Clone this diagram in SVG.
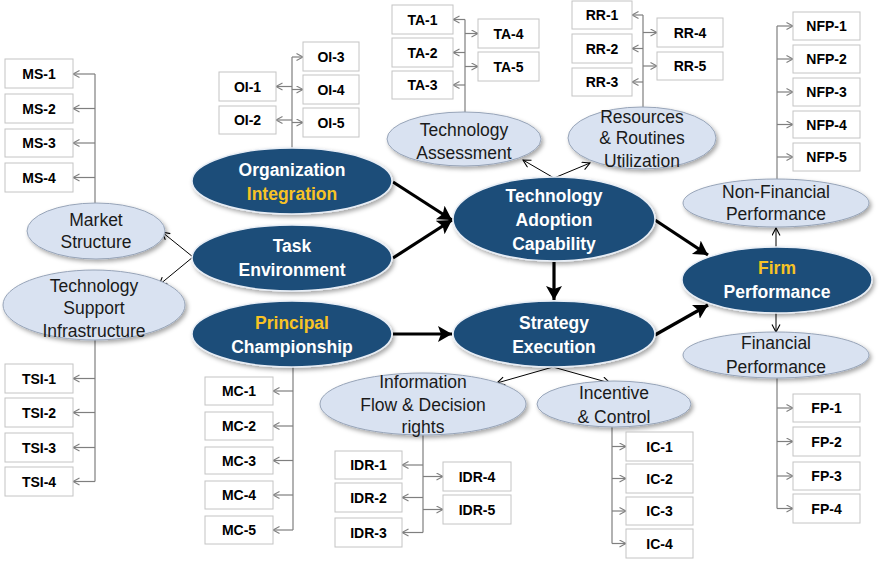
<svg xmlns="http://www.w3.org/2000/svg" width="881" height="562" viewBox="0 0 881 562">
<defs>
<style>
.box rect{fill:#fff;stroke:#c4c4c4;stroke-width:1}
.box text{font-family:"Liberation Sans",Arial,sans-serif;font-weight:bold;font-size:14px;fill:#000;text-anchor:middle}
.lt ellipse{fill:#d9e2f1;stroke:#97a4b8;stroke-width:1;filter:url(#sh)}
.lt text{font-family:"Liberation Sans",Arial,sans-serif;font-size:17.5px;fill:#1a1a1a;text-anchor:middle}
.dk ellipse{fill:#1f4e79;stroke:#e8eef6;stroke-width:1.5;filter:url(#sh)}
.dk text{font-family:"Liberation Sans",Arial,sans-serif;font-weight:bold;font-size:17.5px;fill:#fff;text-anchor:middle}
.dk text.gold{fill:#f7c325}
.tree path{fill:none;stroke:#7f7f7f;stroke-width:1.2}
.tree path.stub{marker-end:url(#grey)}
.thin{fill:none;stroke:#000;stroke-width:1;marker-end:url(#blk)}
.thick{fill:none;stroke:#000;stroke-width:3.2;marker-end:url(#big)}
</style>
<filter id="sh" x="-20%" y="-20%" width="140%" height="150%">
<feDropShadow dx="2" dy="2.5" stdDeviation="2" flood-color="#000" flood-opacity="0.35"/>
</filter>
<marker id="grey" markerUnits="userSpaceOnUse" markerWidth="10" markerHeight="10" refX="7" refY="4" orient="auto">
<path d="M0.5,0.5 L7,4 L0.5,7.5" fill="none" stroke="#7f7f7f" stroke-width="1.1"/>
</marker>
<marker id="blk" markerUnits="userSpaceOnUse" markerWidth="12" markerHeight="12" refX="8" refY="4.5" orient="auto">
<path d="M0.5,0.5 L8,4.5 L0.5,8.5" fill="none" stroke="#000" stroke-width="1.1"/>
</marker>
<marker id="big" markerUnits="userSpaceOnUse" markerWidth="20" markerHeight="20" refX="14" refY="8" orient="auto">
<path d="M0,0 L14,8 L0,16 L3,8 z" fill="#000"/>
</marker>
</defs>
<rect width="881" height="562" fill="#fff"/>

<g id="connectors">
<g class="tree">
<path d="M95,203 V74"/>
<path class="stub" d="M95,74 H73"/><path class="stub" d="M95,108.5 H73"/><path class="stub" d="M95,143 H73"/><path class="stub" d="M95,177.5 H73"/>
<path d="M95,340 V481.5"/>
<path class="stub" d="M95,378.5 H73"/><path class="stub" d="M95,412.5 H73"/><path class="stub" d="M95,447.5 H73"/><path class="stub" d="M95,481.5 H73"/>
<path d="M293,367 V530"/>
<path class="stub" d="M293,391 H273"/><path class="stub" d="M293,426 H273"/><path class="stub" d="M293,460.5 H273"/><path class="stub" d="M293,495 H273"/><path class="stub" d="M293,530 H273"/>
<path d="M292,148 V57"/>
<path class="stub" d="M292,86.5 H276"/><path class="stub" d="M292,120 H276"/>
<path class="stub" d="M292,57 H303"/><path class="stub" d="M292,89.5 H303"/><path class="stub" d="M292,122.5 H303"/>
<path d="M465,112 V19.5"/>
<path class="stub" d="M465,19.5 H453"/><path class="stub" d="M465,52.5 H453"/><path class="stub" d="M465,85 H453"/>
<path class="stub" d="M465,33.5 H478"/><path class="stub" d="M465,66.5 H478"/>
<path d="M643,107 V15"/>
<path class="stub" d="M643,15 H632"/><path class="stub" d="M643,48.5 H632"/><path class="stub" d="M643,82 H632"/>
<path class="stub" d="M643,32.5 H657"/><path class="stub" d="M643,66 H657"/>
<path d="M777,180 V26"/>
<path class="stub" d="M777,26 H793"/><path class="stub" d="M777,59 H793"/><path class="stub" d="M777,92 H793"/><path class="stub" d="M777,124.5 H793"/><path class="stub" d="M777,157 H793"/>
<path d="M777,378 V508.5"/>
<path class="stub" d="M777,408 H793"/><path class="stub" d="M777,441.5 H793"/><path class="stub" d="M777,476 H793"/><path class="stub" d="M777,508.5 H793"/>
<path d="M423,435 V532.5"/>
<path class="stub" d="M423,465 H402"/><path class="stub" d="M423,497.5 H402"/><path class="stub" d="M423,532.5 H402"/>
<path class="stub" d="M423,476.5 H443"/><path class="stub" d="M423,509.5 H443"/>
<path d="M612,427 V543.5"/>
<path class="stub" d="M612,446.5 H626"/><path class="stub" d="M612,478.5 H626"/><path class="stub" d="M612,511 H626"/><path class="stub" d="M612,543.5 H626"/>
</g>
<path class="thin" d="M193,257 L162,232"/>
<path class="thin" d="M193,257 L159,285"/>
<path class="thin" d="M554,178 L523,160"/>
<path class="thin" d="M554,178 L590,163"/>
<path class="thin" d="M553,367 L497,383"/>
<path class="thin" d="M553,367 L610,383"/>
<path class="thin" d="M776,248 L776,228"/>
<path class="thin" d="M776,313 L776,332"/>
<path class="thick" d="M393,182 L452,220"/>
<path class="thick" d="M393,258 L452,220"/>
<path class="thick" d="M393,334 L452,334"/>
<path class="thick" d="M554,262 L554,300"/>
<path class="thick" d="M655,220 L708,255"/>
<path class="thick" d="M655,335 L708,305"/>
</g>

<g id="organization-integration" class="dk"><ellipse cx="292" cy="181" rx="100" ry="33"/><text x="292" y="176">Organization</text><text class="gold" x="292" y="200">Integration</text></g>
<g id="task-environment" class="dk"><ellipse cx="292" cy="258" rx="100" ry="33"/><text x="292" y="252">Task</text><text x="292" y="276">Environment</text></g>
<g id="principal-championship" class="dk"><ellipse cx="292" cy="334" rx="100" ry="33"/><text class="gold" x="292" y="329">Principal</text><text x="292" y="353">Championship</text></g>
<g id="technology-adoption-capability" class="dk"><ellipse cx="554" cy="219" rx="101" ry="42"/><text x="554" y="202">Technology</text><text x="554" y="226">Adoption</text><text x="554" y="250">Capability</text></g>
<g id="strategy-execution" class="dk"><ellipse cx="554" cy="334" rx="101" ry="33"/><text x="554" y="329">Strategy</text><text x="554" y="353">Execution</text></g>
<g id="firm-performance" class="dk"><ellipse cx="777" cy="280" rx="95" ry="33"/><text class="gold" x="777" y="274">Firm</text><text x="777" y="298">Performance</text></g>

<g id="market-structure" class="lt"><ellipse cx="96" cy="231" rx="69" ry="28"/><text x="96" y="226">Market</text><text x="96" y="248">Structure</text></g>
<g id="technology-support-infrastructure" class="lt"><ellipse cx="94" cy="305" rx="91" ry="35"/><text x="94" y="292">Technology</text><text x="94" y="314">Support</text><text x="94" y="337">Infrastructure</text></g>
<g id="technology-assessment" class="lt"><ellipse cx="464" cy="139" rx="77" ry="27"/><text x="464" y="136">Technology</text><text x="464" y="159">Assessment</text></g>
<g id="resources-routines-utilization" class="lt"><ellipse cx="642" cy="138" rx="74" ry="31"/><text x="642" y="123">Resources</text><text x="642" y="144">&amp; Routines</text><text x="642" y="167">Utilization</text></g>
<g id="non-financial-performance" class="lt"><ellipse cx="776" cy="203" rx="93" ry="24"/><text x="776" y="198">Non-Financial</text><text x="776" y="220">Performance</text></g>
<g id="financial-performance" class="lt"><ellipse cx="776" cy="355" rx="93" ry="23"/><text x="776" y="349">Financial</text><text x="776" y="373">Performance</text></g>
<g id="information-flow-decision-rights" class="lt"><ellipse cx="423" cy="404" rx="103" ry="31"/><text x="423" y="388">Information</text><text x="423" y="411">Flow &amp; Decision</text><text x="423" y="433">rights</text></g>
<g id="incentive-control" class="lt"><ellipse cx="614" cy="404" rx="77" ry="23"/><text x="614" y="399">Incentive</text><text x="614" y="423">&amp; Control</text></g>

<g id="ms-1" class="box"><rect x="5" y="59" width="68" height="29"/><text x="39" y="78.5">MS-1</text></g>
<g id="ms-2" class="box"><rect x="5" y="94" width="68" height="29"/><text x="39" y="113.5">MS-2</text></g>
<g id="ms-3" class="box"><rect x="5" y="129" width="68" height="28"/><text x="39" y="148">MS-3</text></g>
<g id="ms-4" class="box"><rect x="5" y="163" width="68" height="29"/><text x="39" y="182.5">MS-4</text></g>

<g id="tsi-1" class="box"><rect x="5" y="364" width="68" height="29"/><text x="39" y="383.5">TSI-1</text></g>
<g id="tsi-2" class="box"><rect x="5" y="398" width="68" height="29"/><text x="39" y="417.5">TSI-2</text></g>
<g id="tsi-3" class="box"><rect x="5" y="433" width="68" height="29"/><text x="39" y="452.5">TSI-3</text></g>
<g id="tsi-4" class="box"><rect x="5" y="467" width="68" height="29"/><text x="39" y="486.5">TSI-4</text></g>

<g id="mc-1" class="box"><rect x="205" y="377" width="68" height="28"/><text x="239" y="396">MC-1</text></g>
<g id="mc-2" class="box"><rect x="205" y="412" width="68" height="28"/><text x="239" y="431">MC-2</text></g>
<g id="mc-3" class="box"><rect x="205" y="447" width="68" height="27"/><text x="239" y="465.5">MC-3</text></g>
<g id="mc-4" class="box"><rect x="205" y="481" width="68" height="28"/><text x="239" y="500">MC-4</text></g>
<g id="mc-5" class="box"><rect x="205" y="516" width="68" height="28"/><text x="239" y="535">MC-5</text></g>

<g id="oi-1" class="box"><rect x="219" y="72" width="57" height="29"/><text x="247.5" y="91.5">OI-1</text></g>
<g id="oi-2" class="box"><rect x="219" y="106" width="57" height="28"/><text x="247.5" y="125">OI-2</text></g>
<g id="oi-3" class="box"><rect x="303" y="42" width="56" height="29"/><text x="331" y="61.5">OI-3</text></g>
<g id="oi-4" class="box"><rect x="303" y="75" width="56" height="29"/><text x="331" y="94.5">OI-4</text></g>
<g id="oi-5" class="box"><rect x="303" y="108" width="56" height="29"/><text x="331" y="127.5">OI-5</text></g>

<g id="ta-1" class="box"><rect x="392" y="5" width="61" height="29"/><text x="422.5" y="24.5">TA-1</text></g>
<g id="ta-2" class="box"><rect x="392" y="38" width="61" height="29"/><text x="422.5" y="57.5">TA-2</text></g>
<g id="ta-3" class="box"><rect x="392" y="71" width="61" height="28"/><text x="422.5" y="90">TA-3</text></g>
<g id="ta-4" class="box"><rect x="478" y="19" width="61" height="29"/><text x="508.5" y="38.5">TA-4</text></g>
<g id="ta-5" class="box"><rect x="478" y="52" width="61" height="29"/><text x="508.5" y="71.5">TA-5</text></g>

<g id="rr-1" class="box"><rect x="572" y="1" width="60" height="28"/><text x="602" y="20">RR-1</text></g>
<g id="rr-2" class="box"><rect x="572" y="34" width="60" height="29"/><text x="602" y="53.5">RR-2</text></g>
<g id="rr-3" class="box"><rect x="572" y="68" width="60" height="28"/><text x="602" y="87">RR-3</text></g>
<g id="rr-4" class="box"><rect x="657" y="18" width="66" height="29"/><text x="690" y="37.5">RR-4</text></g>
<g id="rr-5" class="box"><rect x="657" y="52" width="66" height="28"/><text x="690" y="71">RR-5</text></g>

<g id="nfp-1" class="box"><rect x="793" y="12" width="67" height="28"/><text x="826.5" y="31">NFP-1</text></g>
<g id="nfp-2" class="box"><rect x="793" y="45" width="67" height="28"/><text x="826.5" y="64">NFP-2</text></g>
<g id="nfp-3" class="box"><rect x="793" y="78" width="67" height="28"/><text x="826.5" y="97">NFP-3</text></g>
<g id="nfp-4" class="box"><rect x="793" y="111" width="67" height="27"/><text x="826.5" y="129.5">NFP-4</text></g>
<g id="nfp-5" class="box"><rect x="793" y="143" width="67" height="28"/><text x="826.5" y="162">NFP-5</text></g>

<g id="fp-1" class="box"><rect x="793" y="394" width="67" height="28"/><text x="826.5" y="413">FP-1</text></g>
<g id="fp-2" class="box"><rect x="793" y="427" width="67" height="29"/><text x="826.5" y="446.5">FP-2</text></g>
<g id="fp-3" class="box"><rect x="793" y="462" width="67" height="28"/><text x="826.5" y="481">FP-3</text></g>
<g id="fp-4" class="box"><rect x="793" y="494" width="67" height="29"/><text x="826.5" y="513.5">FP-4</text></g>

<g id="idr-1" class="box"><rect x="335" y="451" width="67" height="28"/><text x="368.5" y="470">IDR-1</text></g>
<g id="idr-2" class="box"><rect x="335" y="483" width="67" height="29"/><text x="368.5" y="502.5">IDR-2</text></g>
<g id="idr-3" class="box"><rect x="335" y="518" width="67" height="29"/><text x="368.5" y="537.5">IDR-3</text></g>
<g id="idr-4" class="box"><rect x="443" y="462" width="68" height="29"/><text x="477" y="481.5">IDR-4</text></g>
<g id="idr-5" class="box"><rect x="443" y="495" width="68" height="29"/><text x="477" y="514.5">IDR-5</text></g>

<g id="ic-1" class="box"><rect x="626" y="432" width="67" height="29"/><text x="659.5" y="451.5">IC-1</text></g>
<g id="ic-2" class="box"><rect x="626" y="464" width="67" height="29"/><text x="659.5" y="483.5">IC-2</text></g>
<g id="ic-3" class="box"><rect x="626" y="497" width="67" height="28"/><text x="659.5" y="516">IC-3</text></g>
<g id="ic-4" class="box"><rect x="626" y="529" width="67" height="29"/><text x="659.5" y="548.5">IC-4</text></g>
</svg>
